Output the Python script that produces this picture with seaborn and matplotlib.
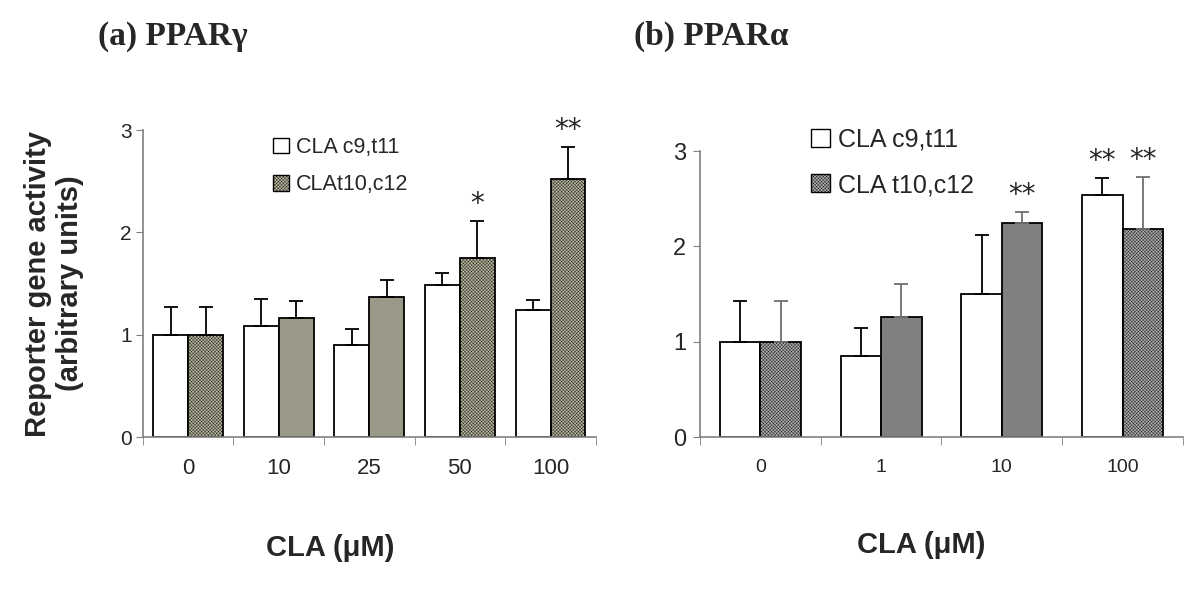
import matplotlib
matplotlib.use("Agg")
import matplotlib.pyplot as plt
import seaborn as sns
import pandas as pd
from matplotlib.patches import Patch

# panel (a) PPARgamma
a_doses = ["0", "10", "25", "50", "100"]
a_c9 = [1.00, 1.08, 0.90, 1.49, 1.24]
a_c9_err = [0.27, 0.27, 0.16, 0.11, 0.10]
a_t10 = [1.00, 1.16, 1.37, 1.75, 2.52]
a_t10_err = [0.27, 0.17, 0.16, 0.36, 0.31]
a_t10_dither = [True, False, False, True, True]
a_stars_c9 = ["", "", "", "", ""]
a_stars_t10 = ["", "", "", "*", "**"]

# panel (b) PPARalpha
b_doses = ["0", "1", "10", "100"]
b_c9 = [1.00, 0.85, 1.50, 2.54]
b_c9_err = [0.43, 0.29, 0.62, 0.18]
b_t10 = [1.00, 1.26, 2.25, 2.18]
b_t10_err = [0.43, 0.34, 0.11, 0.55]
b_t10_dither = [True, False, False, True]
b_stars_c9 = ["", "", "", "**"]
b_stars_t10 = ["", "", "**", "**"]

sns.set_style("white")
plt.rcParams["font.family"] = ["Liberation Sans", "DejaVu Sans"]
plt.rcParams["hatch.linewidth"] = 0.25

SPINE = "#808080"
HATCH = "xxxxxxxxxx"


def draw_panel(ax, doses, c9, c9_err, t10, t10_err, dither, stars_c9, stars_t10,
               solid_col, dither_col, width, err_cols, xsize, ysize, xpad, ypad):
    df = pd.DataFrame({
        "dose": doses * 2,
        "value": c9 + t10,
        "isomer": ["c9"] * len(doses) + ["t10"] * len(doses),
    })
    sns.barplot(data=df, x="dose", y="value", hue="isomer", order=doses,
                palette={"c9": "white", "t10": solid_col}, width=width,
                edgecolor="black", linewidth=1.3, errorbar=None,
                legend=False, ax=ax)
    for cont, errs, stars, ecol in zip(ax.containers, [c9_err, t10_err],
                                       [stars_c9, stars_t10], err_cols):
        xs = [p.get_x() + p.get_width() / 2 for p in cont.patches]
        hs = [p.get_height() for p in cont.patches]
        ax.errorbar(xs, hs, yerr=[[0] * len(errs), errs], fmt="none",
                    ecolor=ecol, elinewidth=1.3, capsize=5, capthick=1.3,
                    zorder=1)
        for x, h, e, s in zip(xs, hs, errs, stars):
            if s:
                ax.text(x, h + e + 0.03, s, ha="center", va="bottom",
                        fontsize=20, family="DejaVu Sans")
    for p, d in zip(ax.containers[1].patches, dither):
        if d:
            p.set_facecolor(dither_col)
            p.set_hatch(HATCH)

    n = len(doses)
    ax.set_xlim(-0.5, n - 0.5)
    ax.set_ylim(0, 3)
    ax.set_yticks([0, 1, 2, 3])
    ax.set_xticks([i - 0.5 for i in range(n + 1)], minor=True)
    ax.tick_params(axis="x", which="major", length=0, pad=xpad,
                   labelsize=xsize)
    ax.tick_params(axis="x", which="minor", length=6, color=SPINE,
                   direction="out", bottom=True)
    ax.tick_params(axis="y", length=5, color=SPINE, direction="out", left=True,
                   labelsize=ysize, pad=ypad)
    for side in ["top", "right"]:
        ax.spines[side].set_visible(False)
    for side in ["left", "bottom"]:
        ax.spines[side].set_color(SPINE)
        ax.spines[side].set_linewidth(1.2)
    ax.set_xlabel("CLA (\u03bcM)", fontsize=21, fontweight="bold")
    ax.set_ylabel("")

    handles = [Patch(facecolor="white", edgecolor="black", linewidth=1.0),
               Patch(facecolor=dither_col, edgecolor="black", hatch=HATCH,
                     linewidth=1.0)]
    return handles


fig = plt.figure(figsize=(12, 5.92), dpi=100)
ax1 = fig.add_axes([0.119, 0.2618, 0.3775, 0.5186])
ax2 = fig.add_axes([0.5833, 0.2618, 0.4025, 0.4831])

h1 = draw_panel(ax1, a_doses, a_c9, a_c9_err, a_t10, a_t10_err, a_t10_dither,
                a_stars_c9, a_stars_t10, "#9d9b83", "#b9b79f", 0.77,
                ["black", "black"], 16, 15, 15, 3)
ax1.legend(h1, ["CLA c9,t11", "CLAt10,c12"], loc="upper left",
           bbox_to_anchor=(0.245, 1.04), frameon=False, fontsize=15.5,
           handlelength=0.75, handleheight=0.75, handletextpad=0.3,
           labelspacing=0.75)
ax1.xaxis.set_label_coords(0.413, -0.315)
ax1.set_ylabel("Reporter gene activity\n(arbitrary units)", fontsize=21,
               fontweight="bold", linespacing=1.2)
ax1.yaxis.set_label_coords(-0.13, 0.5)

h2 = draw_panel(ax2, b_doses, b_c9, b_c9_err, b_t10, b_t10_err, b_t10_dither,
                b_stars_c9, b_stars_t10, "#808080", "#aeaeae", 0.67,
                ["black", "#707070"], 14, 17, 16, 5)
ax2.legend(h2, ["CLA c9,t11", "CLA t10,c12"], loc="upper left",
           bbox_to_anchor=(0.183, 1.16), frameon=False, fontsize=18,
           handlelength=0.75, handleheight=0.75, handletextpad=0.35,
           labelspacing=0.85)
ax2.xaxis.set_label_coords(0.459, -0.33)

fig.text(98 / 1200, 1 - 36 / 592, "(a) PPAR\u03b3", family="Liberation Serif",
         fontweight="bold", fontsize=24, ha="left", va="center")
fig.text(634 / 1200, 1 - 36 / 592, "(b) PPAR\u03b1", family="Liberation Serif",
         fontweight="bold", fontsize=24, ha="left", va="center")

fig.savefig("out.png", dpi=100)
